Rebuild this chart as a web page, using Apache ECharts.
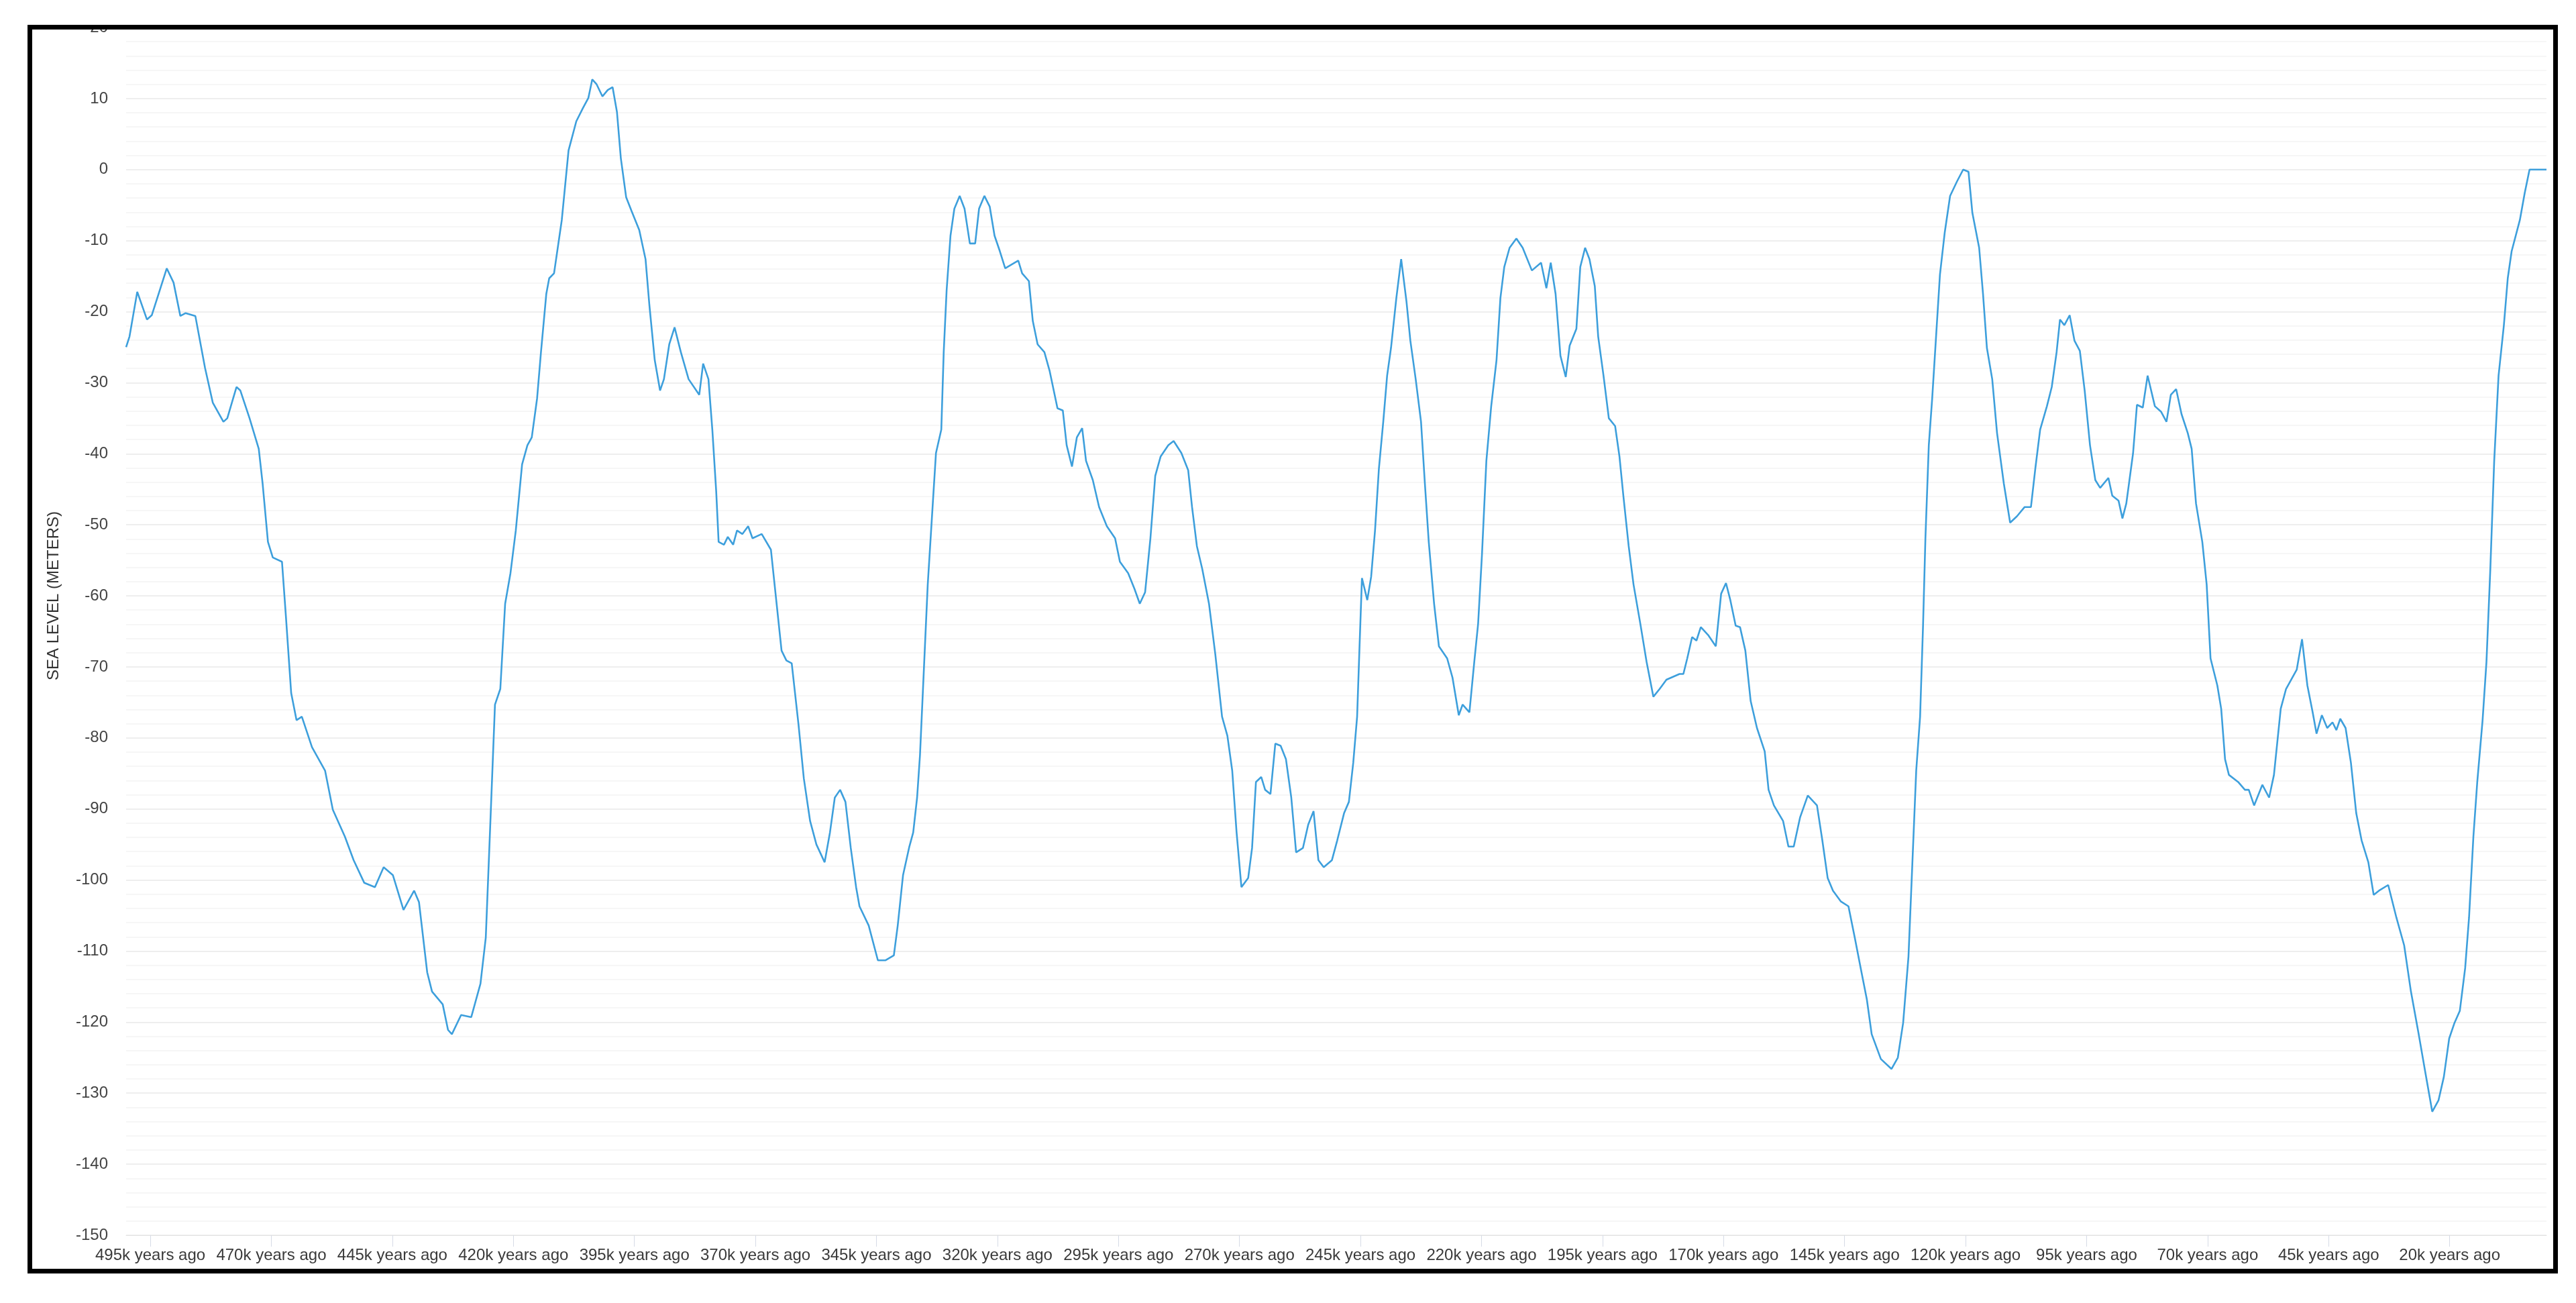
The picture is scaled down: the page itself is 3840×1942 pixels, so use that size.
<!DOCTYPE html>
<html>
<head>
<meta charset="utf-8">
<script src="https://cdn.jsdelivr.net/npm/echarts@6/dist/echarts.min.js"></script>
<style>
  html, body { margin: 0; padding: 0; background: #ffffff; }
  body { width: 3840px; height: 1942px; position: relative; overflow: hidden; }
  #frame { position: absolute; left: 41px; top: 37px; width: 3772px; height: 1861px;
           border: 7px solid #000; box-sizing: border-box; background: #fff; }
  #chart { position: absolute; left: 48px; top: 44px; width: 3758px; height: 1847px; }
</style>
</head>
<body>
<div id="frame"></div>
<div id="chart"></div>
<script>
// Years ago (thousands) and sea level (meters)
const yearsAgo = [
  500, 499.3, 497.7, 495.7, 494.7, 491.6, 490.2, 488.8, 487.7, 485.7, 483.7, 482.1, 479.9, 479.1, 477.2, 476.4,
  474.5, 472.6, 471.8, 470.7, 469.7, 467.8, 467.0, 465.9, 464.8, 463.7, 461.6, 458.9, 457.3, 454.8, 453.0, 450.8,
  448.6, 446.8, 444.9, 442.7, 440.5, 439.5, 437.8, 436.8, 434.6, 433.5, 432.7, 430.8, 428.7, 426.8, 425.7, 424.9,
  423.8, 422.7, 421.7, 420.6, 419.5, 418.2, 417.1, 416.2, 415.1, 414.3, 413.2, 412.6, 411.6, 410.0, 408.6, 407.0,
  405.6, 404.5, 403.7, 402.8, 401.6, 400.5, 399.5, 398.6, 397.8, 396.7, 395.6, 394.0, 392.7, 391.9, 390.8, 389.7,
  388.9, 387.8, 386.7, 385.4, 383.8, 381.6, 380.8, 379.7, 378.9, 378.1, 377.6, 376.5, 375.7, 374.6, 373.8, 372.7,
  371.5, 370.6, 368.7, 366.8, 365.7, 364.6, 363.6, 362.5, 361.1, 360.0, 358.7, 357.4, 355.7, 354.6, 353.6, 352.5,
  351.4, 350.3, 349.2, 348.5, 346.6, 344.7, 343.1, 341.4, 340.6, 339.5, 338.2, 337.4, 336.6, 336.0, 335.2, 334.4,
  333.2, 332.7, 331.6, 331.1, 330.5, 329.7, 328.9, 327.8, 326.8, 325.7, 324.6, 323.8, 322.7, 321.6, 320.6, 319.5,
  318.4, 315.7, 314.9, 313.5, 312.7, 311.7, 310.3, 309.2, 307.6, 306.5, 305.7, 304.6, 303.6, 302.5, 301.7, 300.3,
  299.0, 297.4, 295.7, 294.7, 293.0, 291.7, 290.6, 289.5, 288.4, 287.4, 286.3, 284.7, 283.6, 282.0, 280.6, 279.8,
  278.8, 277.7, 276.3, 275.0, 273.6, 272.5, 271.5, 270.6, 269.6, 268.2, 267.4, 266.6, 265.5, 264.7, 263.6, 262.6,
  261.5, 260.4, 259.3, 258.3, 256.9, 255.8, 254.7, 253.7, 252.6, 250.9, 249.8, 248.4, 247.4, 246.5, 245.7, 245.2,
  244.7, 243.6, 242.8, 242.0, 241.2, 240.3, 239.5, 238.7, 237.6, 236.6, 235.5, 234.7, 233.6, 232.5, 231.7, 230.9,
  229.8, 228.8, 227.1, 226.0, 224.7, 223.9, 222.5, 221.5, 220.7, 219.9, 219.0, 218.0, 216.9, 216.1, 215.3, 214.2,
  212.8, 211.5, 209.6, 207.7, 206.6, 205.7, 204.7, 203.7, 202.6, 201.8, 200.4, 199.6, 198.6, 197.7, 196.6, 195.9,
  194.8, 193.7, 192.4, 191.5, 190.7, 189.6, 188.6, 187.2, 185.9, 184.5, 183.2, 181.8, 179.1, 178.3, 177.5, 176.5,
  175.6, 174.7, 173.2, 171.6, 170.5, 169.5, 168.6, 167.5, 166.6, 165.5, 164.4, 163.1, 161.5, 160.7, 159.6, 157.7,
  156.6, 155.5, 154.2, 152.6, 150.7, 149.6, 148.5, 147.4, 145.8, 144.2, 142.9, 141.5, 140.4, 139.4, 137.5, 135.3,
  134.0, 132.9, 131.8, 131.0, 130.2, 129.4, 128.8, 128.3, 127.6, 126.9, 126.1, 125.3, 124.3, 123.2, 121.8, 120.5,
  119.4, 118.6, 117.2, 116.4, 115.6, 114.5, 113.5, 112.1, 110.8, 109.4, 107.8, 106.5, 105.6, 104.6, 103.2, 102.2,
  101.2, 100.5, 99.6, 98.5, 97.5, 96.4, 95.4, 94.3, 93.2, 92.2, 90.5, 89.7, 88.4, 87.6, 86.8, 85.4,
  84.6, 83.4, 82.4, 80.9, 79.6, 78.5, 77.6, 76.5, 75.4, 74.1, 73.3, 72.4, 71.1, 70.2, 69.4, 68.0,
  67.2, 66.4, 65.6, 63.7, 62.3, 61.5, 60.4, 58.7, 57.3, 56.3, 54.9, 53.8, 51.6, 50.5, 49.4, 48.3,
  47.5, 46.4, 45.3, 44.2, 43.4, 42.6, 41.5, 40.4, 39.3, 38.2, 36.8, 35.7, 34.6, 32.7, 31.0, 29.4,
  28.0, 26.4, 25.0, 23.6, 22.3, 21.2, 20.1, 19.0, 17.9, 16.8, 16.0, 15.1, 14.3, 13.2, 12.4, 11.6,
  10.8, 9.9, 8.8, 8.0, 7.2, 5.5, 4.5, 3.5, 0
];
const seaLevel = [
  -25, -23.5, -17.2, -21.1, -20.5, -13.9, -15.9, -20.6, -20.2, -20.6, -27.9, -32.8, -35.5, -35.0, -30.6, -31.1,
  -35.0, -39.3, -44.2, -52.4, -54.6, -55.2, -62.8, -73.7, -77.5, -77.0, -81.3, -84.6, -90.1, -93.9, -97.2, -100.4,
  -101.0, -98.2, -99.3, -104.2, -101.5, -103.1, -113.0, -115.7, -117.5, -121.1, -121.7, -119.0, -119.3, -114.6, -108.1, -94.4,
  -75.3, -73.1, -61.1, -56.8, -50.8, -41.5, -38.8, -37.7, -32.2, -25.7, -17.5, -15.3, -14.6, -7.1, 2.7, 6.8,
  8.7, 10.1, 12.7, 12.0, 10.3, 11.2, 11.6, 8.1, 1.6, -3.9, -5.8, -8.5, -12.6, -19.1, -26.8, -31.1,
  -29.5, -24.6, -22.2, -25.7, -29.5, -31.7, -27.3, -29.5, -36.6, -45.3, -52.4, -52.8, -51.7, -52.8, -50.8, -51.3,
  -50.2, -51.9, -51.3, -53.5, -60.6, -67.7, -69.1, -69.5, -78.1, -85.7, -91.7, -95.0, -97.5, -93.3, -88.4, -87.3,
  -89.0, -95.5, -101.0, -103.7, -106.4, -111.3, -111.3, -110.6, -106.4, -99.3, -95.3, -93.3, -88.4, -82.4, -70.4, -58.4,
  -45.3, -39.9, -36.6, -25.7, -17.0, -9.3, -5.5, -3.7, -5.5, -10.4, -10.4, -5.5, -3.7, -5.2, -9.3, -11.5,
  -13.9, -12.8, -14.6, -15.7, -21.3, -24.6, -25.7, -28.4, -33.6, -33.9, -38.8, -41.8, -37.7, -36.4, -41.0, -43.7,
  -47.5, -50.2, -51.9, -55.2, -56.8, -59.0, -61.1, -59.5, -51.9, -43.1, -40.4, -38.8, -38.2, -39.9, -42.3, -47.5,
  -53.0, -56.2, -61.1, -68.2, -77.0, -79.7, -84.6, -93.3, -101.0, -99.7, -95.5, -86.2, -85.5, -87.3, -87.9, -80.8,
  -81.1, -83.0, -88.4, -96.1, -95.5, -92.2, -90.3, -97.2, -98.2, -97.2, -94.4, -90.6, -89.0, -83.5, -77.0, -67.1,
  -57.5, -60.6, -57.3, -50.8, -42.1, -35.5, -29.0, -25.1, -18.1, -12.6, -18.6, -24.1, -29.5, -35.5, -44.2, -52.4,
  -61.1, -67.1, -68.8, -71.5, -76.8, -75.3, -76.4, -69.3, -63.9, -54.1, -41.0, -33.3, -26.8, -18.1, -13.7, -11.0,
  -9.7, -11.0, -14.2, -13.1, -16.7, -13.1, -17.5, -26.2, -29.2, -24.8, -22.4, -13.7, -11.0, -12.6, -16.4, -23.5,
  -29.0, -35.0, -36.1, -40.4, -45.9, -53.0, -58.4, -63.9, -69.3, -74.2, -73.1, -71.8, -71.0, -71.0, -68.8, -65.8,
  -66.3, -64.4, -65.5, -67.1, -59.7, -58.2, -60.6, -64.2, -64.4, -67.7, -74.8, -78.6, -81.9, -87.3, -89.5, -91.7,
  -95.3, -95.3, -91.2, -88.1, -89.5, -94.4, -99.7, -101.5, -103.0, -103.7, -108.1, -113.0, -116.8, -121.7, -125.2, -126.6,
  -125.0, -120.1, -110.8, -97.7, -84.6, -77.0, -64.4, -51.9, -38.8, -32.2, -23.5, -14.8, -8.8, -3.7, -1.7, 0.0,
  -0.3, -6.1, -11.0, -17.5, -25.1, -29.5, -37.1, -44.2, -49.7, -48.8, -47.5, -47.5, -42.1, -36.6, -33.3, -30.6,
  -25.7, -21.1, -21.9, -20.5, -24.1, -25.5, -31.1, -38.8, -43.7, -44.8, -43.4, -45.9, -46.6, -49.1, -47.0, -39.9,
  -33.1, -33.5, -29.0, -33.3, -34.1, -35.5, -31.7, -30.9, -34.4, -37.1, -39.3, -47.0, -52.4, -58.4, -68.8, -72.6,
  -75.9, -83.0, -85.2, -86.2, -87.3, -87.3, -89.5, -86.6, -88.4, -85.2, -75.9, -73.1, -70.4, -66.1, -72.6, -76.4,
  -79.4, -76.8, -78.6, -77.8, -78.9, -77.3, -78.6, -83.5, -90.6, -94.4, -97.5, -102.1, -101.5, -100.7, -105.3, -109.2,
  -115.7, -121.7, -127.2, -132.6, -131.0, -127.7, -122.3, -120.1, -118.4, -112.4, -105.3, -93.9, -86.2, -77.5, -69.3, -56.2,
  -41.0, -29.0, -21.9, -15.3, -11.5, -7.1, -3.3, 0.0, 0
];
// X tick / label positions (thousand years ago)
const xTickValues = [495, 470, 445, 420, 395, 370, 345, 320, 295, 270, 245, 220, 195, 170, 145, 120, 95, 70, 45, 20];
const xLabelSuffix = 'k years ago';
const yAxisTitle = 'SEA LEVEL (METERS)';

const seriesData = yearsAgo.map((y, i) => [y, seaLevel[i]]);

const chart = echarts.init(document.getElementById('chart'), null, { renderer: 'canvas' });
chart.setOption({
  animation: false,
  backgroundColor: '#ffffff',
  grid: { left: 140, right: 10, top: -3, bottom: 50, containLabel: false, outerBoundsMode: 'none' },
  xAxis: {
    type: 'value',
    min: 0,
    max: 500,
    inverse: true,
    splitLine: { show: false },
    axisLine: { show: true, onZero: false, lineStyle: { color: '#e3e3e3', width: 1 } },
    axisTick: { show: true, customValues: xTickValues, length: 17, lineStyle: { color: '#d6dbe6', width: 1 } },
    axisLabel: {
      customValues: xTickValues,
      formatter: v => v + xLabelSuffix,
      fontFamily: 'Liberation Sans, Arial, sans-serif',
      fontSize: 24,
      color: '#3a3a3a',
      margin: 18
    }
  },
  yAxis: {
    type: 'value',
    min: -150,
    max: 20,
    interval: 10,
    axisLine: { show: false },
    axisTick: { show: false },
    splitLine: { show: true, lineStyle: { color: '#e8e8e8', width: 1.5 } },
    minorTick: { show: false, splitNumber: 5 },
    minorSplitLine: { show: true, lineStyle: { color: '#f3f3f3', width: 1.5 } },
    axisLabel: {
      fontFamily: 'Liberation Sans, Arial, sans-serif',
      fontSize: 24,
      color: '#444444',
      margin: 27
    }
  },
  graphic: [{
    type: 'text',
    x: 32,
    y: 844,
    rotation: Math.PI / 2,
    style: {
      text: yAxisTitle,
      fontFamily: 'Liberation Sans, Arial, sans-serif',
      fontSize: 24,
      fill: '#333333',
      align: 'center',
      verticalAlign: 'middle'
    }
  }],
  series: [{
    type: 'line',
    data: seriesData,
    showSymbol: false,
    symbol: 'none',
    smooth: false,
    lineStyle: { color: '#3d9fdc', width: 2.6 },
    clip: true
  }]
});
</script>
</body>
</html>
